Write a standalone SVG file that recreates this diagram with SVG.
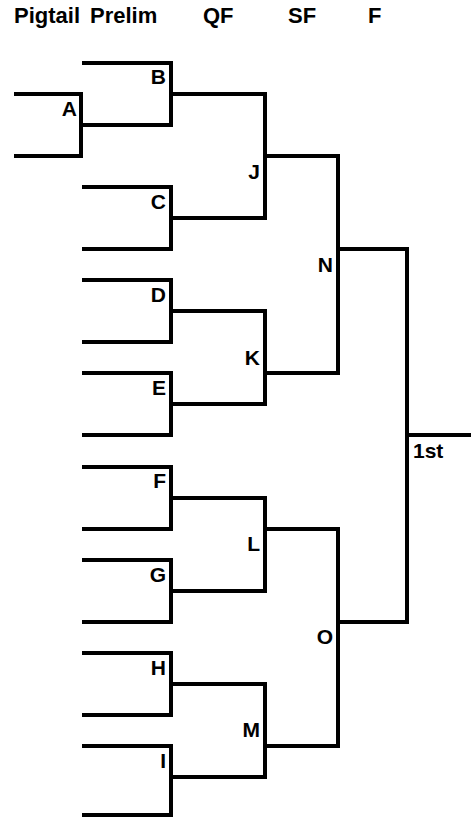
<svg xmlns="http://www.w3.org/2000/svg" width="471" height="818" viewBox="0 0 471 818">
  <style>
    .ln { stroke: #000; stroke-width: 4; fill: none; stroke-linecap: butt; }
    .hd { font-family: "Liberation Sans", Arial, sans-serif; font-weight: bold; font-size: 22px; fill: #000; }
    .lb { font-family: "Liberation Sans", Arial, sans-serif; font-weight: bold; font-size: 21px; fill: #000; text-anchor: end; }
    .lbs { font-family: "Liberation Sans", Arial, sans-serif; font-weight: bold; font-size: 21px; fill: #000; }
  </style>
  <defs>
    <clipPath id="pigclip"><rect x="0" y="0" width="81" height="40"/></clipPath>
  </defs>
  <rect width="471" height="818" fill="#fff"/>

  <g id="headers">
    <text class="hd" x="14" y="23" clip-path="url(#pigclip)">Pigtail</text>
    <text class="hd" x="90" y="23">Prelim</text>
    <text class="hd" x="203" y="23">QF</text>
    <text class="hd" x="288" y="23">SF</text>
    <text class="hd" x="368" y="23">F</text>
  </g>

  <g id="connectors" class="ln">
    <!-- pigtail entries -->
    <path d="M14 94 H81 M14 156 H81"/>
    <!-- prelim entries -->
    <path d="M82 63 H171 M81 125 H171"/>
    <path d="M82 187 H171 M82 249 H171"/>
    <path d="M82 280 H171 M82 342 H171"/>
    <path d="M82 373 H171 M82 435 H171"/>
    <path d="M82 467 H171 M82 529 H171"/>
    <path d="M82 560 H171 M82 622 H171"/>
    <path d="M82 653 H171 M82 715 H171"/>
    <path d="M82 746 H171 M82 815 H171"/>
    <!-- prelim to QF -->
    <path d="M171 94 H265 M171 218 H265"/>
    <path d="M171 311 H265 M171 404 H265"/>
    <path d="M171 498 H265 M171 591 H265"/>
    <path d="M171 684 H265 M171 777 H265"/>
    <!-- QF to SF -->
    <path d="M265 156 H338 M265 373 H338"/>
    <path d="M265 529 H338 M265 746 H338"/>
    <!-- SF to F -->
    <path d="M338 249 H407 M338 622 H407"/>
    <!-- F to 1st -->
    <path d="M407 435 H471"/>
  </g>

  <g id="node-A"><path class="ln" d="M81 92 V158"/><text class="lb" x="77" y="116">A</text></g>
  <g id="node-B"><path class="ln" d="M171 61 V127"/><text class="lb" x="166" y="84">B</text></g>
  <g id="node-C"><path class="ln" d="M171 185 V251"/><text class="lb" x="166" y="209">C</text></g>
  <g id="node-D"><path class="ln" d="M171 278 V344"/><text class="lb" x="166" y="302">D</text></g>
  <g id="node-E"><path class="ln" d="M171 371 V437"/><text class="lb" x="166" y="395">E</text></g>
  <g id="node-F"><path class="ln" d="M171 465 V531"/><text class="lb" x="166" y="488">F</text></g>
  <g id="node-G"><path class="ln" d="M171 558 V624"/><text class="lb" x="166" y="582">G</text></g>
  <g id="node-H"><path class="ln" d="M171 651 V717"/><text class="lb" x="166" y="675">H</text></g>
  <g id="node-I"><path class="ln" d="M171 744 V817"/><text class="lb" x="166" y="768">I</text></g>
  <g id="node-J"><path class="ln" d="M265 92 V220"/><text class="lb" x="260" y="179">J</text></g>
  <g id="node-K"><path class="ln" d="M265 309 V406"/><text class="lb" x="260" y="365">K</text></g>
  <g id="node-L"><path class="ln" d="M265 496 V593"/><text class="lb" x="260" y="551">L</text></g>
  <g id="node-M"><path class="ln" d="M265 682 V779"/><text class="lb" x="260" y="737">M</text></g>
  <g id="node-N"><path class="ln" d="M338 154 V375"/><text class="lb" x="333" y="272">N</text></g>
  <g id="node-O"><path class="ln" d="M338 527 V748"/><text class="lb" x="333" y="644">O</text></g>
  <g id="node-F-final"><path class="ln" d="M407 247 V624"/></g>
  <g id="node-1st"><text class="lbs" x="413" y="458">1st</text></g>
</svg>
